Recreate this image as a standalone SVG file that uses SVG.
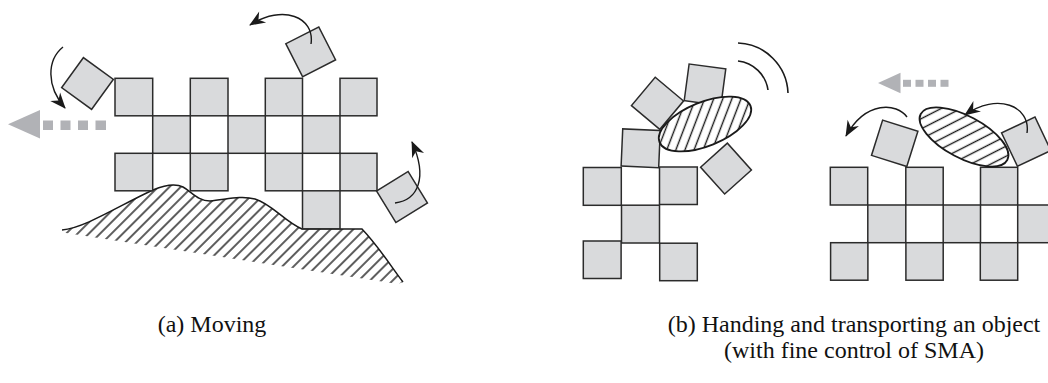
<svg xmlns="http://www.w3.org/2000/svg" width="1048" height="383" viewBox="0 0 1048 383">
  <style>
    .mod { fill: #d9dadc; stroke: #2b2b2b; stroke-width: 1.5; }
    .obj { stroke: #1a1a1a; stroke-width: 1.8; }
    .turn { fill: none; stroke: #1a1a1a; stroke-width: 1.4; marker-end: url(#head); }
    .wave { fill: none; stroke: #1a1a1a; stroke-width: 1.6; }
    .ghost { fill: #b1b2b6; }
    .cap { font-family: "Liberation Serif", "Times New Roman", serif; font-size: 24px; fill: #111; text-anchor: middle; }
  </style>
  <defs>
    <!-- diagonal hatching for the terrain -->
    <pattern id="hatchGround" width="8" height="8" patternUnits="userSpaceOnUse" patternTransform="rotate(45)">
      <rect width="8" height="8" fill="#fff"/>
      <line x1="4" y1="0" x2="4" y2="8" stroke="#1a1a1a" stroke-width="1.4"/>
    </pattern>
    <!-- hatching for the carried objects -->
    <pattern id="hatchObjA" width="8.5" height="8.5" patternUnits="userSpaceOnUse" patternTransform="rotate(43)">
      <rect width="8.5" height="8.5" fill="#fff"/>
      <line x1="4.25" y1="0" x2="4.25" y2="8.5" stroke="#1a1a1a" stroke-width="1.4"/>
    </pattern>
    <pattern id="hatchObjB" width="9" height="9" patternUnits="userSpaceOnUse" patternTransform="rotate(35)">
      <rect width="9" height="9" fill="#fff"/>
      <line x1="4.5" y1="0" x2="4.5" y2="9" stroke="#1a1a1a" stroke-width="1.4"/>
    </pattern>
    <marker id="head" markerUnits="userSpaceOnUse" markerWidth="20" markerHeight="16" viewBox="-16 -8 18 16" refX="0" refY="0" orient="auto">
      <path d="M1,0 L-15,-6.5 L-10,0 L-15,6.5 Z" fill="#1a1a1a"/>
    </marker>
    <clipPath id="groundClip">
      <path d="M62,230 C85,228 120,205 153,190 C165,185 175,183 183,187 C192,192 198,201 210,201 C225,200 240,195 255,199 C272,204 285,222 302,229 L362,229 C380,248 392,268 403,282 L398,284 L66,233 Z"/>
    </clipPath>
  </defs>

  <!-- (a) terrain -->
  <g id="terrain">
    <rect x="55" y="175" width="360" height="115" fill="url(#hatchGround)" clip-path="url(#groundClip)"/>
    <path d="M62,230 C85,228 120,205 153,190 C165,185 175,183 183,187 C192,192 198,201 210,201 C225,200 240,195 255,199 C272,204 285,222 302,229 L362,229 C380,248 392,268 403,282" fill="none" stroke="#1a1a1a" stroke-width="1.5"/>
  </g>

  <!-- (a) lattice of modules -->
  <g id="lattice-a">
    <rect class="mod" x="115" y="78.3" width="37.7" height="37.5"/>
    <rect class="mod" x="190.3" y="78.3" width="37.7" height="37.5"/>
    <rect class="mod" x="265.3" y="78.3" width="37.2" height="37.5"/>
    <rect class="mod" x="340" y="78.3" width="37" height="37.5"/>
    <rect class="mod" x="152.7" y="115.8" width="37.6" height="37.5"/>
    <rect class="mod" x="228" y="115.8" width="37.3" height="37.5"/>
    <rect class="mod" x="302.5" y="115.8" width="37.5" height="37.5"/>
    <rect class="mod" x="115" y="153.3" width="37.7" height="37.5"/>
    <rect class="mod" x="190.3" y="153.3" width="37.7" height="37.5"/>
    <rect class="mod" x="265.3" y="153.3" width="37.2" height="37.5"/>
    <rect class="mod" x="340" y="153.3" width="37" height="37.5"/>
    <rect class="mod" x="302.5" y="190.8" width="37.5" height="38"/>
  </g>

  <!-- (a) modules turning over the lattice -->
  <g id="mover-left">
    <rect class="mod" x="-18.5" y="-18.5" width="37" height="37" transform="translate(87.5,83.5) rotate(36)"/>
  </g>
  <g id="mover-top">
    <rect class="mod" x="-18.5" y="-18.5" width="37" height="37" transform="translate(310.7,51.8) rotate(-27)"/>
  </g>
  <g id="mover-right">
    <rect class="mod" x="-18.5" y="-18.5" width="37" height="37" transform="translate(402,197) rotate(-31.5)"/>
  </g>

  <!-- (b) left: lattice holding an object -->
  <g id="lattice-b1">
    <rect class="mod" x="583.3" y="167.5" width="38" height="37.8"/>
    <rect class="mod" x="659.5" y="167" width="37.8" height="37.5"/>
    <rect class="mod" x="621.5" y="205.2" width="38" height="37.8"/>
    <rect class="mod" x="583.3" y="241" width="37.8" height="37.5"/>
    <rect class="mod" x="659.7" y="243.2" width="37.6" height="37.5"/>
    <rect class="mod" x="-18.8" y="-18.6" width="37.6" height="37.2" transform="translate(640.7,148.3) rotate(2.5)"/>
  </g>
  <g id="arm-b1">
    <rect class="mod" x="-18.5" y="-18.5" width="37" height="37" transform="translate(657.5,103.3) rotate(40)"/>
    <rect class="mod" x="-18.5" y="-18.5" width="37" height="37" transform="translate(705,84.8) rotate(7.6)"/>
    <rect class="mod" x="-18" y="-18" width="36" height="36" transform="translate(726,168.6) rotate(48)"/>
  </g>
  <g id="object-b1">
    <ellipse class="obj" fill="url(#hatchObjA)" cx="705" cy="124" rx="49" ry="22" transform="rotate(-22 705 124)"/>
  </g>
  <g id="signal-b1">
    <path class="wave" d="M738,43 A52,52 0 0 1 788,93"/>
    <path class="wave" d="M738,61 A34,34 0 0 1 768,90"/>
  </g>

  <!-- (b) right: lattice passing an object along -->
  <g id="lattice-b2">
    <rect class="mod" x="830.3" y="167.3" width="37.4" height="37.7"/>
    <rect class="mod" x="905.8" y="167.3" width="37.4" height="37.7"/>
    <rect class="mod" x="980.5" y="167.3" width="37.2" height="37.7"/>
    <rect class="mod" x="867.8" y="205" width="38" height="37.7"/>
    <rect class="mod" x="943.2" y="205" width="37.3" height="37.7"/>
    <rect class="mod" x="1017.7" y="205" width="37.5" height="37.7"/>
    <rect class="mod" x="830.6" y="242.7" width="37.3" height="37.5"/>
    <rect class="mod" x="905.9" y="242.7" width="37.3" height="37.5"/>
    <rect class="mod" x="980.3" y="242.7" width="37.4" height="37.5"/>
  </g>
  <g id="carriers-b2">
    <rect class="mod" x="-18.5" y="-18.5" width="37" height="37" transform="translate(894.7,143.3) rotate(17.5)"/>
    <rect class="mod" x="-18.5" y="-18.5" width="37" height="37" transform="translate(1026.2,141.7) rotate(-25.4)"/>
  </g>
  <g id="object-b2">
    <ellipse class="obj" fill="url(#hatchObjB)" cx="964" cy="137" rx="49" ry="21" transform="rotate(28 964 137)"/>
  </g>

  <!-- connectors: rotation arrows and travel direction -->
  <g id="connectors">
    <path class="turn" d="M63,47 C47,60 46,86 65,108"/>
    <path class="turn" d="M311,44 C315,17 283,4 250,25"/>
    <path class="turn" d="M395,203 C418,200 428,178 412,142"/>
    <path class="turn" d="M907,117 C897,103 866,100 846,136"/>
    <path class="turn" d="M1027,133 C1031,106 997,92 965,115"/>

    <g class="ghost">
      <polygon points="8,124.3 40,110 40,138.5"/>
      <rect x="43" y="120.5" width="10" height="9.5"/>
      <rect x="60.5" y="120.5" width="10" height="9.5"/>
      <rect x="78" y="120.5" width="10" height="9.5"/>
      <rect x="95.5" y="120.5" width="10.5" height="9.5"/>
    </g>
    <g class="ghost">
      <polygon points="878,83 900.5,72.7 900.5,93.3"/>
      <rect x="903" y="79.8" width="8" height="7"/>
      <rect x="915.5" y="79.8" width="8" height="7"/>
      <rect x="928" y="79.8" width="8" height="7"/>
      <rect x="940.5" y="79.8" width="8" height="7"/>
    </g>
  </g>

  <!-- captions -->
  <g id="captions">
    <text class="cap" x="212" y="332">(a) Moving</text>
    <text class="cap" x="854" y="332">(b) Handing and transporting an object</text>
    <text class="cap" x="854" y="358">(with fine control of SMA)</text>
  </g>
</svg>
